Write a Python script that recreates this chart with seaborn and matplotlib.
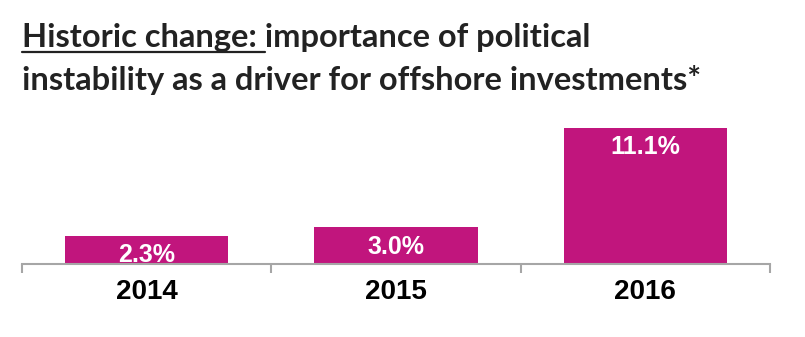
import matplotlib
matplotlib.use("Agg")
import matplotlib.pyplot as plt
from matplotlib.ticker import FixedLocator
import seaborn as sns
import pandas as pd

years = ["2014", "2015", "2016"]
shares = [2.3, 3.0, 11.1]
value_labels = ["2.3%", "3.0%", "11.1%"]
title_lead = "Historic change: "
title_rest = "importance of political"
title_line2 = "instability as a driver for offshore investments*"

BAR_COLOR = "#C1157D"
AXIS_COLOR = "#A6A6A6"
TITLE_COLOR = "#222222"

sns.set_theme(style="white")
plt.rcParams["font.family"] = ["Liberation Sans", "DejaVu Sans"]

W, H, DPI = 805, 337, 100
fig = plt.figure(figsize=(W / DPI, H / DPI), dpi=DPI)

# axes box in pixels: x 22..770, baseline at y=264, top at y=110
left_px, right_px, base_px, top_px = 22, 770, 264, 110
ax = fig.add_axes([left_px / W, (H - base_px) / H,
                   (right_px - left_px) / W, (base_px - top_px) / H])

df = pd.DataFrame({"year": years, "share": shares})
sns.barplot(data=df, x="year", y="share", color=BAR_COLOR, saturation=1,
            width=0.656, ax=ax, edgecolor="none")

px_per_unit = 12.25
ax.set_ylim(0, (base_px - top_px) / px_per_unit)
ax.set_xlim(-0.5, len(years) - 0.5)

for s in ["top", "right", "left"]:
    ax.spines[s].set_visible(False)
ax.spines["bottom"].set_color(AXIS_COLOR)
ax.spines["bottom"].set_linewidth(1.5)
ax.set_yticks([])
ax.set_xlabel("")
ax.set_ylabel("")

# category separators as minor ticks at the boundaries
ax.xaxis.set_minor_locator(FixedLocator([i - 0.5 for i in range(len(years) + 1)]))
ax.tick_params(axis="x", which="minor", bottom=True, length=6.5, width=1.5,
               color=AXIS_COLOR)
ax.tick_params(axis="x", which="major", bottom=False, length=0, pad=11)
for lbl in ax.get_xticklabels():
    lbl.set_fontsize(20)
    lbl.set_fontweight("bold")
    lbl.set_color("black")

# value labels inside the top of each bar
for i, (v, txt) in enumerate(zip(shares, value_labels)):
    ax.annotate(txt, xy=(i, v), xytext=(0, -14), textcoords="offset points",
                ha="center", va="center", color="white", fontsize=18,
                fontweight="bold")

# two-line title, first phrase underlined
title_font = dict(family=["Lato", "DejaVu Sans"], weight="bold",
                  color=TITLE_COLOR)
x0 = 22
renderer = fig.canvas.get_renderer()
probe = fig.text(0, 0, title_line2, fontsize=22, **title_font)
w2 = probe.get_window_extent(renderer).width
probe.remove()
tsize = 22 * 681 / w2

fig.text(x0 / W, 1 - 47 / H, title_lead + title_rest, fontsize=tsize,
         va="baseline", ha="left", **title_font)
lead = fig.text(x0 / W, 1 - 47 / H, title_lead, fontsize=tsize,
                va="baseline", ha="left", alpha=0, **title_font)
lead_w = lead.get_window_extent(renderer).width
fig.text(x0 / W, 1 - 90 / H, title_line2, fontsize=tsize,
         va="baseline", ha="left", **title_font)
fig.add_artist(plt.Line2D([x0 / W, (x0 + lead_w) / W],
                          [1 - 52 / H, 1 - 52 / H], color=TITLE_COLOR,
                          linewidth=1.6, transform=fig.transFigure))

fig.savefig("out.png", dpi=DPI, facecolor="white")
